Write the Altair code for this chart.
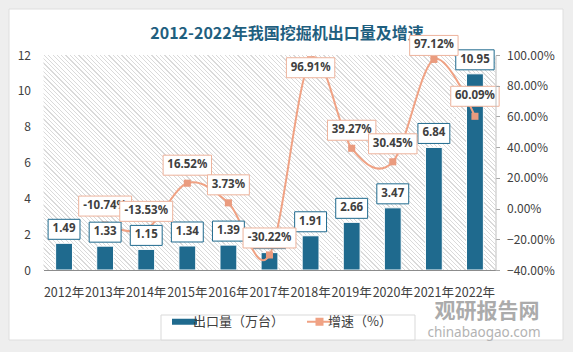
import altair as alt
import pandas as pd

# ---------------- data ----------------
years = ["2012年", "2013年", "2014年", "2015年", "2016年", "2017年",
         "2018年", "2019年", "2020年", "2021年", "2022年"]
export_volume = [1.49, 1.33, 1.15, 1.34, 1.39, 0.97, 1.91, 2.66, 3.47, 6.84, 10.95]
growth_years = ["2013年", "2014年", "2015年", "2016年", "2017年",
                "2018年", "2019年", "2020年", "2021年", "2022年"]
growth_rate = [-10.74, -13.53, 16.52, 3.73, -30.22, 96.91, 39.27, 30.45, 97.12, 60.09]
left_ticks = [0, 2, 4, 6, 8, 10, 12]
right_ticks = [-40, -20, 0, 20, 40, 60, 80, 100]
series_names = ["出口量（万台）", "增速（%）"]
title_text = "2012-2022年我国挖掘机出口量及增速"
watermark_cn = "观研报告网"
watermark_en = "chinabaogao.com"

# ---------------- style ----------------
W, H = 452, 215
BAR = "#1F6A8E"
LINE = "#F0A284"
MARK = "#EA9B7E"
GBOX = "#EDB39C"
TXT = "#404040"
CJK = "Noto Sans CJK SC"
NUM = "Noto Sans"
bar_label_dy = -14
growth_label_dy = [-19, -18, -18, -18, -17, 8, -18, -18, -14, -20]


def text_w(s):
    w = 0
    for c in s:
        if c.isdigit():
            w += 6.5
        elif c == ".":
            w += 3.4
        elif c == "%":
            w += 10
        else:
            w += 4.5
    return w


def box_path(label, dy, h=20):
    # symbol size 400 -> 1 path unit = 10 px
    hw = (text_w(label) + 9) / 20
    cy = dy / 10
    hh = h / 20
    return f"M{-hw:.3f},{cy - hh:.3f}H{hw:.3f}V{cy + hh:.3f}H{-hw:.3f}Z"


bar_df = pd.DataFrame({"year": years, "volume": export_volume})
bar_df["label"] = [f"{v:.2f}" for v in export_volume]
bar_df["box"] = [box_path(l, bar_label_dy) for l in bar_df["label"]]
bar_df["series"] = series_names[0]

g_df = pd.DataFrame({"year": growth_years, "growth": growth_rate})
g_df["label"] = [f"{v:.2f}%" for v in growth_rate]
g_df["dy"] = growth_label_dy
g_df["box"] = [box_path(l, d) for l, d in zip(g_df["label"], growth_label_dy)]
g_df["series"] = series_names[1]

one = pd.DataFrame({"a": [0]})

x_enc = alt.X(
    "year:N", sort=years, title=None,
    scale=alt.Scale(paddingInner=0.59, paddingOuter=0.295),
    axis=alt.Axis(labelAngle=0, ticks=False, domainColor="#8c8c8c", domainWidth=1.2,
                  labelPadding=16, labelFontSize=12.5, labelFont=CJK, labelColor=TXT,
                  grid=False, zindex=1),
)
yl_scale = alt.Scale(domain=[0, 12], nice=False)
yr_scale = alt.Scale(domain=[-40, 100], nice=False)

color_enc = alt.Color(
    "series:N",
    scale=alt.Scale(domain=series_names, range=[BAR, LINE]),
    legend=alt.Legend(
        title=None, orient="none", legendX=134.5, legendY=260, direction="horizontal",
        labelFont=CJK, labelFontSize=13, labelColor=TXT, labelOffset=2,
        columnPadding=18, padding=0, symbolSize=625,
        symbolType={"expr": "datum.label == '出口量（万台）' ? 'M-1,-0.24H1V0.24H-1Z' : 'M-1,0H1M-0.24,-0.24H0.24V0.24H-0.24Z'"},
        symbolFillColor={"expr": "datum.label == '出口量（万台）' ? '#1F6A8E' : '#EA9B7E'"},
        symbolStrokeColor={"expr": "datum.label == '出口量（万台）' ? '#1F6A8E' : '#F0A284'"},
        symbolStrokeWidth={"expr": "datum.label == '出口量（万台）' ? 0 : 2"},
        symbolOpacity=1,
        zindex=1,
    ),
)

# hatch gradient for plot background
S = W + H
k = S / (W * W + H * H)
P = 4.3
sw = 1.2
stops = []
i = 0
while i * P + sw < S:
    a = i * P / S
    b = (i * P + sw) / S
    stops += [
        alt.GradientStop(color="#ffffff", offset=a),
        alt.GradientStop(color="#dadada", offset=a),
        alt.GradientStop(color="#dadada", offset=b),
        alt.GradientStop(color="#ffffff", offset=b),
    ]
    i += 1
hatch_fill = alt.LinearGradient(gradient="linear", stops=stops,
                                x1=0, y1=1, x2=k * W, y2=1 - k * H)

card = alt.Chart(one).mark_rect(fill="white", stroke="#dedede", strokeWidth=1).encode(
    x=alt.value(-34.5), x2=alt.value(519.5), y=alt.value(-46), y2=alt.value(285))

hatch = alt.Chart(one).mark_rect(fill=hatch_fill).encode(
    x=alt.value(0), x2=alt.value(W), y=alt.value(0), y2=alt.value(H))

legend_frame = alt.Chart(one).mark_rect(fill="white", stroke="#d9d9d9", strokeWidth=1).encode(
    x=alt.value(117.5), x2=alt.value(371.5), y=alt.value(260), y2=alt.value(285))

title = alt.Chart(one).mark_text(font=CJK, fontSize=16, fontWeight="bold", color="#1F5F7F",
                                 baseline="middle", align="center").encode(
    x=alt.value(243.5), y=alt.value(-21), text=alt.value(title_text))

bars = alt.Chart(bar_df).mark_bar(stroke="white", strokeWidth=1).encode(
    x=x_enc,
    y=alt.Y("volume:Q", scale=yl_scale, title=None,
            axis=alt.Axis(values=left_ticks, ticks=False, domain=False, grid=False,
                          labelPadding=13, labelFontSize=12, labelFont=CJK, labelColor=TXT,
                          zindex=1)),
    color=color_enc,
)

line = alt.Chart(g_df).mark_line(interpolate="cardinal", strokeWidth=2).encode(
    x=x_enc,
    y=alt.Y("growth:Q", scale=yr_scale, title=None,
            axis=alt.Axis(orient="right", values=right_ticks, grid=False,
                          labelExpr="format(datum.value, '.2f') + '%'",
                          tickSize=4, tickColor="#a6a6a6", domainColor="#bfbfbf",
                          labelPadding=7, labelFontSize=12, labelFont=CJK, labelColor=TXT,
                          zindex=1)),
    color=color_enc,
)

points = alt.Chart(g_df).mark_point(shape="square", filled=True, fill=MARK, size=50, opacity=1).encode(
    x=x_enc,
    y=alt.Y("growth:Q", scale=yr_scale, axis=None),
)

layers = [card, hatch, legend_frame, title, bars, line, points]

# bar data labels
layers.append(
    alt.Chart(bar_df).mark_point(filled=True, fill="white", stroke=BAR, strokeWidth=1,
                                 size=400, opacity=1).encode(
        x=x_enc, y=alt.Y("volume:Q", scale=yl_scale, axis=None),
        shape=alt.Shape("box:N", scale=None))
)
layers.append(
    alt.Chart(bar_df).mark_text(dy=bar_label_dy, font=NUM, fontSize=11.5, fontWeight="bold",
                                color=TXT, baseline="middle").encode(
        x=x_enc, y=alt.Y("volume:Q", scale=yl_scale, axis=None), text="label:N")
)

# growth data labels, each box then its text so later labels cover earlier ones
for yr, d in zip(growth_years, growth_label_dy):
    sub = alt.Chart(g_df).transform_filter(alt.datum.year == yr)
    layers.append(
        sub.mark_point(filled=True, fill="white", stroke=GBOX, strokeWidth=1,
                       size=400, opacity=1).encode(
            x=x_enc, y=alt.Y("growth:Q", scale=yr_scale, axis=None),
            shape=alt.Shape("box:N", scale=None))
    )
    layers.append(
        sub.mark_text(dy=d, font=NUM, fontSize=11.5, fontWeight="bold",
                      color=TXT, baseline="middle").encode(
            x=x_enc, y=alt.Y("growth:Q", scale=yr_scale, axis=None), text="label:N")
    )

wm1 = alt.Chart(one).mark_text(font=CJK, fontSize=21, fontWeight="bold", color="#ababab",
                               baseline="middle", align="center").encode(
    x=alt.value(443.5), y=alt.value(257), text=alt.value(watermark_cn))
wm2 = alt.Chart(one).mark_text(font=NUM, fontSize=13.5, color="#b3b3b3",
                               baseline="middle", align="center").encode(
    x=alt.value(440.5), y=alt.value(278), text=alt.value(watermark_en))
layers += [wm1, wm2]

chart = alt.layer(*layers).resolve_scale(y="independent").properties(
    width=W, height=H,
    padding={"left": 43.5, "top": 55, "right": 77.5, "bottom": 82},
    autosize=alt.AutoSizeParams(type="none"),
    background="#eeeeee",
).configure_view(stroke=None)

chart.save("out.html", embed_options={"renderer": "svg", "actions": False})
